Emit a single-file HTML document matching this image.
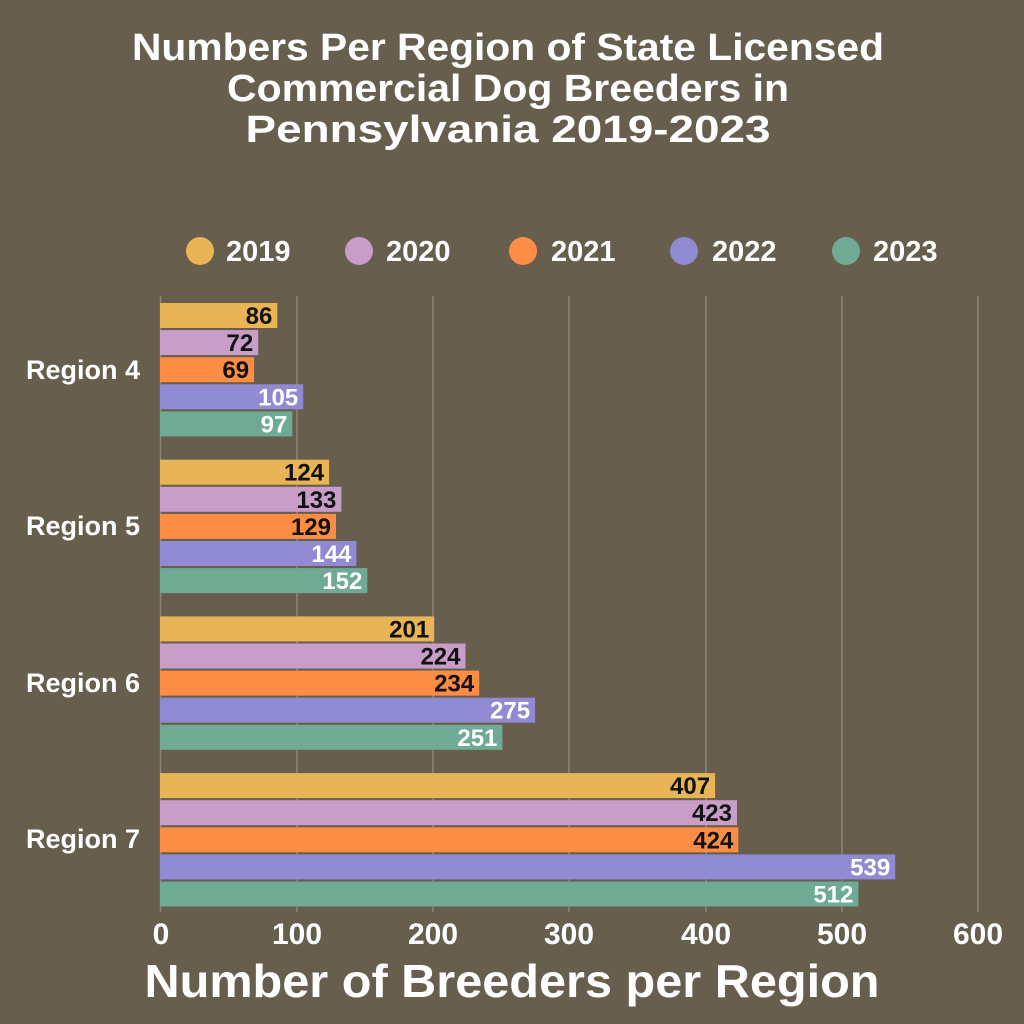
<!DOCTYPE html>
<html><head><meta charset="utf-8"><style>
body{margin:0;background:#675e4d;}
svg{display:block;font-family:"Liberation Sans",sans-serif;font-weight:bold;}
</style></head><body>
<svg width="1024" height="1024" viewBox="0 0 1024 1024">
<rect width="1024" height="1024" fill="#675e4d"/>
<g fill="#fff" font-size="38" text-anchor="middle">
<text x="508" y="60" textLength="752" lengthAdjust="spacingAndGlyphs">Numbers Per Region of State Licensed</text>
<text x="508" y="101" textLength="562" lengthAdjust="spacingAndGlyphs">Commercial Dog Breeders in</text>
<text x="508" y="142" textLength="525" lengthAdjust="spacingAndGlyphs">Pennsylvania 2019-2023</text>
</g>
<g font-size="29" fill="#fff">
<circle cx="200" cy="251" r="14" fill="#e8b455"/><text x="226" y="261">2019</text>
<circle cx="359" cy="251" r="14" fill="#c89ec8"/><text x="386" y="261">2020</text>
<circle cx="523" cy="251" r="14" fill="#fd8c45"/><text x="551" y="261">2021</text>
<circle cx="684" cy="251" r="14" fill="#8f8ad2"/><text x="712" y="261">2022</text>
<circle cx="846" cy="251" r="14" fill="#6fab94"/><text x="873" y="261">2023</text>
</g>
<g stroke="#8d8576" stroke-width="1.5">
<line x1="160.5" y1="296" x2="160.5" y2="912"/>
<line x1="297" y1="296" x2="297" y2="912"/>
<line x1="433" y1="296" x2="433" y2="912"/>
<line x1="569" y1="296" x2="569" y2="912"/>
<line x1="706" y1="296" x2="706" y2="912"/>
<line x1="842" y1="296" x2="842" y2="912"/>
<line x1="978" y1="296" x2="978" y2="912"/>
</g>
<g>
<rect x="160" y="303" width="117.3" height="25" fill="#e8b455"/>
<rect x="160" y="330.1" width="98.2" height="25" fill="#c89ec8"/>
<rect x="160" y="357.2" width="94.1" height="25" fill="#fd8c45"/>
<rect x="160" y="384.3" width="143.2" height="25" fill="#8f8ad2"/>
<rect x="160" y="411.4" width="132.3" height="25" fill="#6fab94"/>
<rect x="160" y="459.7" width="169.1" height="25" fill="#e8b455"/>
<rect x="160" y="486.8" width="181.4" height="25" fill="#c89ec8"/>
<rect x="160" y="513.9" width="176" height="25" fill="#fd8c45"/>
<rect x="160" y="541" width="196.4" height="25" fill="#8f8ad2"/>
<rect x="160" y="568.1" width="207.3" height="25" fill="#6fab94"/>
<rect x="160" y="616.4" width="274.2" height="25" fill="#e8b455"/>
<rect x="160" y="643.5" width="305.5" height="25" fill="#c89ec8"/>
<rect x="160" y="670.6" width="319.2" height="25" fill="#fd8c45"/>
<rect x="160" y="697.7" width="375.1" height="25" fill="#8f8ad2"/>
<rect x="160" y="724.8" width="342.4" height="25" fill="#6fab94"/>
<rect x="160" y="773.1" width="555.1" height="25" fill="#e8b455"/>
<rect x="160" y="800.2" width="577" height="25" fill="#c89ec8"/>
<rect x="160" y="827.3" width="578.3" height="25" fill="#fd8c45"/>
<rect x="160" y="854.4" width="735.2" height="25" fill="#8f8ad2"/>
<rect x="160" y="881.5" width="698.4" height="25" fill="#6fab94"/>
</g>
<g font-size="24" text-anchor="end" fill="#111">
<text x="272.3" y="324">86</text>
<text x="253.2" y="351.1">72</text>
<text x="249.1" y="378.2">69</text>
<text x="324.1" y="480.7">124</text>
<text x="336.4" y="507.8">133</text>
<text x="331" y="534.9">129</text>
<text x="429.2" y="637.4">201</text>
<text x="460.5" y="664.5">224</text>
<text x="474.2" y="691.6">234</text>
<text x="710.1" y="794.1">407</text>
<text x="732" y="821.2">423</text>
<text x="733.3" y="848.3">424</text>
</g>
<g font-size="24" text-anchor="end" fill="#fff">
<text x="298.2" y="405.3">105</text>
<text x="287.3" y="432.4">97</text>
<text x="351.4" y="562">144</text>
<text x="362.3" y="589.1">152</text>
<text x="530.1" y="718.7">275</text>
<text x="497.4" y="745.8">251</text>
<text x="890.2" y="875.4">539</text>
<text x="853.4" y="902.5">512</text>
</g>
<g fill="#fff" font-size="27" text-anchor="end">
<text x="140" y="379">Region 4</text>
<text x="140" y="535">Region 5</text>
<text x="140" y="692">Region 6</text>
<text x="140" y="848">Region 7</text>
</g>
<g fill="#fff" font-size="30" text-anchor="middle">
<text x="161" y="944">0</text><text x="297" y="944">100</text><text x="433" y="944">200</text>
<text x="569" y="944">300</text><text x="706" y="944">400</text><text x="842" y="944">500</text><text x="978" y="944">600</text>
</g>
<text x="512" y="997" fill="#fff" font-size="46" text-anchor="middle" textLength="735" lengthAdjust="spacingAndGlyphs">Number of Breeders per Region</text>
</svg>
</body></html>
